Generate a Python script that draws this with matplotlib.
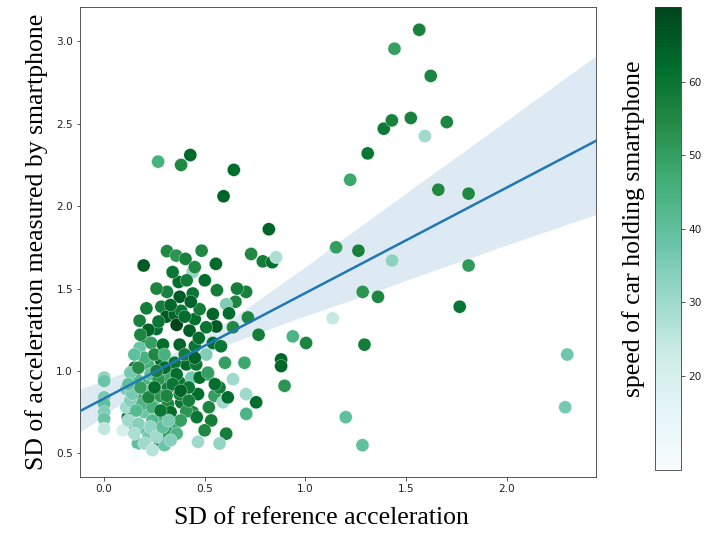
import numpy as np
import matplotlib
matplotlib.use("Agg")
from matplotlib import pyplot as plt
import seaborn as sns

# SD of reference acceleration
sd_ref = [1.565, 1.442, 1.622, 1.389, 1.429, 1.523, 1.702, 1.593, 0.268, 0.382,
          0.428, 0.644, 0.593, 0.818, 1.222, 1.309, 1.66, 1.81, 1.152, 1.263,
          1.43, 1.81, 1.284, 1.36, 1.766, 1.135, 0.937, 1.003, 1.293, 0.879,
          0.879, 0.896, 2.30, 2.29, 1.20, 1.283,
          0.312, 0.358, 0.404, 0.484, 0.196, 0.555, 0.73, 0.788, 0.835, 0.854,
          0.44, 0.37, 0.41, 0.312, 0.375, 0.44, 0.56, 0.705, 0.652, 0.606,
          0.284, 0.176, 0.26, 0.309, 0.35, 0.383, 0.45, 0.474, 0.54, 0.557,
          0.714, 0.767, 0.64, 0.507, 0.424, 0.20, 0.176, 0.234, 0.292, 0.375,
          0.45, 0.507, 0.54, 0.151, 0.218, 0.284, 0.333, 0.408, 0.457, 0.515,
          0.697, 0.64, 0.0, 0.0, 0.0, 0.0, 0.0, 0.0, 0.0, 0.11,
          0.2, 0.26, 0.317, 0.375, 0.433, 0.466, 0.548, 0.59, 0.614, 0.706,
          0.755, 0.118, 0.168, 0.25, 0.317, 0.383, 0.44, 0.532, 0.499, 0.606,
          0.573, 0.466, 0.143, 0.193, 0.25, 0.168, 0.275, 0.317, 0.358, 0.151,
          0.093, 0.11, 0.29, 0.375, 0.408, 0.573, 0.474, 0.705, 0.515, 0.2,
          0.22, 0.27, 0.33, 0.36, 0.40, 0.43, 0.47, 0.25, 0.30, 0.35,
          0.40, 0.45, 0.30, 0.36, 0.42, 0.23, 0.28, 0.33, 0.20, 0.24,
          0.38, 0.46, 0.52, 0.55, 0.60, 0.58, 0.62, 0.66, 0.50, 0.45,
          0.34, 0.26, 0.21, 0.18, 0.15, 0.16, 0.13, 0.22, 0.30,
          0.12, 0.14, 0.17, 0.19, 0.21, 0.23, 0.24, 0.26, 0.27, 0.29,
          0.31, 0.32, 0.34, 0.36, 0.15, 0.18, 0.22, 0.28, 0.33, 0.20,
          0.25, 0.13, 0.17, 0.30, 0.38, 0.42, 0.26, 0.12, 0.16, 0.24]

# SD of acceleration measured by smartphone
sd_phone = [3.07, 2.955, 2.79, 2.47, 2.52, 2.535, 2.51, 2.425, 2.27, 2.25,
            2.31, 2.22, 2.06, 1.86, 2.16, 2.32, 2.10, 2.076, 1.75, 1.73,
            1.67, 1.64, 1.48, 1.45, 1.39, 1.32, 1.21, 1.17, 1.16, 1.07,
            1.03, 0.91, 1.10, 0.78, 0.72, 0.55,
            1.727, 1.70, 1.68, 1.73, 1.64, 1.65, 1.71, 1.665, 1.66, 1.69,
            1.60, 1.54, 1.55, 1.48, 1.45, 1.47, 1.49, 1.48, 1.42, 1.405,
            1.39, 1.305, 1.255, 1.33, 1.345, 1.365, 1.315, 1.375, 1.345, 1.27,
            1.325, 1.22, 1.265, 1.265, 1.245, 1.20, 1.14, 1.17, 1.16, 1.16,
            1.15, 1.10, 1.17, 1.02, 1.04, 1.06, 1.02, 1.04, 1.04, 0.98,
            1.05, 0.95, 0.96, 0.94, 0.84, 0.80, 0.75, 0.71, 0.65, 0.89,
            0.93, 0.92, 0.90, 0.93, 0.96, 0.86, 0.85, 0.81, 0.84, 0.74,
            0.81, 0.72, 0.84, 0.83, 0.80, 0.81, 0.75, 0.70, 0.64, 0.62,
            0.56, 0.57, 0.64, 0.655, 0.64, 0.56, 0.57, 0.625, 0.685, 0.49,
            0.64, 0.78, 0.72, 0.86, 0.755, 0.90, 0.96, 0.86, 0.99, 1.08,
            1.25, 1.30, 1.40, 1.28, 1.33, 1.42, 1.20, 1.10, 1.10, 1.05,
            1.10, 1.08, 0.97, 0.98, 0.90, 0.98, 0.85, 0.75, 0.75, 0.70,
            0.70, 0.72, 0.78, 0.92, 1.05, 1.15, 1.35, 1.50, 1.55, 1.63,
            1.60, 1.50, 1.38, 1.22, 1.10, 0.95, 0.82, 0.60, 0.55,
            0.70, 0.86, 0.68, 0.80, 0.88, 0.66, 0.78, 0.60, 0.95, 0.66,
            0.85, 0.70, 0.92, 0.62, 0.62, 0.90, 0.84, 0.76, 0.58, 0.56,
            0.90, 0.99, 1.02, 1.02, 0.88, 0.82, 1.00, 0.92, 0.76, 0.52]

# speed of car holding smartphone
speed = [57, 50, 56, 59, 57, 57, 56, 30, 45, 55,
         63, 62, 64, 64, 48, 60, 55, 55, 50, 57,
         33, 51, 52, 56, 60, 24, 44, 56, 58, 63,
         63, 52, 37, 36, 40, 40,
         55, 52, 57, 55, 66, 63, 55, 58, 62, 28,
         32, 62, 58, 57, 66, 60, 58, 57, 56, 35,
         58, 57, 62, 66, 64, 60, 62, 58, 64, 66,
         56, 58, 55, 60, 65, 60, 38, 50, 62, 64,
         60, 35, 62, 58, 45, 62, 58, 63, 60, 55,
         48, 30, 33, 38, 36, 40, 35, 38, 25, 35,
         45, 40, 58, 60, 36, 62, 50, 30, 62, 44,
         62, 64, 48, 40, 56, 60, 55, 58, 55, 58,
         32, 30, 38, 38, 36, 40, 62, 50, 48, 7.2,
         20, 30, 45, 58, 52, 58, 62, 30, 50, 45,
         64, 60, 63, 70.2, 62, 64, 62, 55, 45, 60,
         58, 64, 48, 62, 60, 40, 52, 62, 38, 42,
         50, 60, 56, 62, 50, 60, 62, 58, 62, 55,
         60, 56, 58, 56, 40, 42, 34, 36, 38,
         30, 36, 34, 44, 38, 32, 46, 30, 52, 40,
         56, 36, 60, 44, 28, 50, 56, 60, 34, 30,
         62, 36, 54, 62, 64, 58, 58, 40, 42, 26]

x = np.array(sd_ref)
y = np.array(sd_phone)
c = np.array(speed)

fig = plt.figure(figsize=(707 / 72, 535 / 72), dpi=72)
ax = fig.add_axes([80 / 707, 1 - 477 / 535, 516 / 707, 470 / 535])
cax = fig.add_axes([655 / 707, 1 - 470 / 535, 26 / 707, 463 / 535])

sc = ax.scatter(x, y, c=c, cmap="BuGn", s=170, edgecolors="white", linewidths=0.3, zorder=2)
ax.set_xlim(-0.12, 2.443)
ax.set_ylim(0.357, 3.208)
sns.regplot(x=x, y=y, scatter=False, truncate=False, ax=ax, seed=0,
            line_kws={"lw": 2.5, "zorder": 3})

ax.set_xticks([0.0, 0.5, 1.0, 1.5, 2.0])
ax.set_yticks([0.5, 1.0, 1.5, 2.0, 2.5, 3.0])
ax.tick_params(labelsize=10.5, colors="#333333", labelcolor="#222222")
ax.set_xlabel("SD of reference acceleration", family="Liberation Serif", fontsize=25.7,
              labelpad=13, x=0.467)
ax.set_ylabel("SD of acceleration measured by smartphone", family="Liberation Serif",
              fontsize=25.7, labelpad=8)
for s in ax.spines.values():
    s.set_color("#333333")

cb = fig.colorbar(sc, cax=cax)
cb.set_ticks([20, 30, 40, 50, 60])
cb.ax.tick_params(labelsize=10.5, colors="#333333", labelcolor="#222222")
cb.outline.set_edgecolor("#333333")
cax.yaxis.set_label_position("left")
cb.set_label("speed of car holding smartphone", family="Liberation Serif", fontsize=25.7,
             labelpad=10, y=0.52)

fig.savefig("out.png", dpi=72)
